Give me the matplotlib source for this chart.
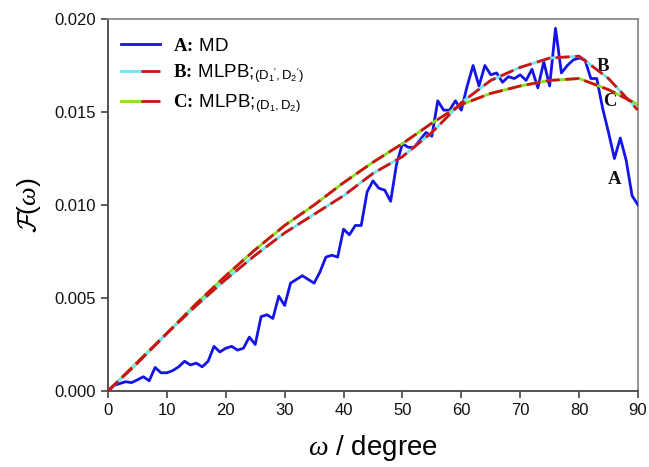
import matplotlib
matplotlib.use("Agg")
import matplotlib.pyplot as plt
from matplotlib.legend_handler import HandlerTuple
from matplotlib.lines import Line2D

plt.rcParams["font.family"] = ["Liberation Sans", "DejaVu Sans"]
plt.rcParams["mathtext.fontset"] = "custom"
plt.rcParams["mathtext.rm"] = "Liberation Sans"
plt.rcParams["mathtext.sf"] = "Liberation Sans"
plt.rcParams["mathtext.it"] = "Liberation Serif:italic"
plt.rcParams["mathtext.bf"] = "Liberation Serif:bold"
plt.rcParams["mathtext.cal"] = "cmsy10"

# A: MD (1-degree sampling)
omega_md = list(range(0, 91))
f_md = [
    0.0000, 0.0003, 0.0004, 0.0005, 0.00045, 0.0006, 0.00077, 0.00055, 0.00127, 0.00098,
    0.00098, 0.0011, 0.0013, 0.0016, 0.0014, 0.0015, 0.0013, 0.0016, 0.0024, 0.0021,
    0.0023, 0.0024, 0.0022, 0.0023, 0.0029, 0.0025, 0.0040, 0.0041, 0.0039, 0.0051,
    0.0046, 0.0058, 0.0060, 0.0062, 0.0060, 0.0058, 0.0064, 0.0072, 0.0073, 0.0072,
    0.0087, 0.0084, 0.0089, 0.0089, 0.0107, 0.0113, 0.0109, 0.0108, 0.0102, 0.0122,
    0.0133, 0.0131, 0.0131, 0.0135, 0.0139, 0.0137, 0.0156, 0.0151, 0.0151, 0.0156,
    0.0151, 0.0164, 0.0175, 0.0164, 0.0175, 0.0170, 0.0171, 0.0166, 0.0169, 0.0168,
    0.0170, 0.0167, 0.0173, 0.0163, 0.0177, 0.0164, 0.0195, 0.0171, 0.0175, 0.0178,
    0.0179, 0.0178, 0.0168, 0.0168, 0.0152, 0.0139, 0.0125, 0.0136, 0.0124, 0.0105,
    0.0100,
]

# B and C: MLPB curves (5-degree sampling)
omega_mlpb = list(range(0, 91, 5))
f_b = [0.0, 0.0015, 0.0031, 0.0046, 0.0060, 0.0073, 0.0085, 0.0095, 0.0105, 0.0117,
       0.0126, 0.0139, 0.0155, 0.0167, 0.0174, 0.0179, 0.0180, 0.0168, 0.0151]
f_c = [0.0, 0.00155, 0.0031, 0.0047, 0.0062, 0.0076, 0.0089, 0.0100, 0.0112, 0.0123,
       0.0133, 0.0144, 0.0154, 0.0160, 0.0164, 0.0167, 0.0168, 0.0162, 0.0154]

x_ticks = [0, 10, 20, 30, 40, 50, 60, 70, 80, 90]
y_ticks = [0.000, 0.005, 0.010, 0.015, 0.020]

BLUE = "#1414e6"
RED = "#cc1414"
CYAN = "#70e8f0"
GREEN = "#86e01e"
LW = 2.0
DASH = (5, 2)
LEG_DASH = (7.2, 2.9)

fig = plt.figure(figsize=(6.49, 4.67), dpi=100)
ax = fig.add_axes([0.1664, 0.1627, 0.8166, 0.7966])

ax.plot(omega_md, f_md, color=BLUE, lw=LW, solid_joinstyle="round", zorder=3)

ax.plot(omega_mlpb, f_c, color=GREEN, lw=LW, zorder=4)
ax.plot(omega_mlpb, f_c, color=RED, lw=LW, dashes=DASH, zorder=5)
ax.plot(omega_mlpb, f_b, color=CYAN, lw=LW, zorder=4)
ax.plot(omega_mlpb, f_b, color=RED, lw=LW, dashes=DASH, zorder=5)

ax.set_xlim(0, 90)
ax.set_ylim(0, 0.020)
ax.set_xticks(x_ticks)
ax.set_yticks(y_ticks)
ax.set_yticklabels([f"{v:.3f}" for v in y_ticks])
ax.tick_params(axis="both", direction="out", length=5, width=1.2, labelsize=12,
               color="#444444", labelcolor="#111111", top=False, right=False)

for side in ("left", "bottom"):
    ax.spines[side].set_color("#444444")
    ax.spines[side].set_linewidth(1.3)
for side in ("top", "right"):
    ax.spines[side].set_color("#8a8a8a")
    ax.spines[side].set_linewidth(1.3)

ax.set_xlabel(r"$\omega$ / degree", fontsize=20, labelpad=11)
ax.set_ylabel(r"$\mathcal{F}(\omega)$", fontsize=19, labelpad=8)

# curve tags
tag_style = dict(fontsize=13.5, fontweight="bold", family="Liberation Serif", color="#111111")
ax.text(84.1, 0.01745, "B", ha="center", va="center", **tag_style)
ax.text(85.3, 0.01555, "C", ha="center", va="center", **tag_style)
ax.text(86.1, 0.01135, "A", ha="center", va="center", **tag_style)

# legend proxies: coloured underlay with red dashes on top
h_a = Line2D([], [], color=BLUE, lw=LW)
h_b = (Line2D([], [], color=CYAN, lw=LW),
       Line2D([], [], color=RED, lw=LW, dashes=LEG_DASH))
h_c = (Line2D([], [], color=GREEN, lw=LW),
       Line2D([], [], color=RED, lw=LW, dashes=LEG_DASH))

labels = [
    r"$\mathbf{A}\!\mathbf{:}\!$ MD",
    r"$\mathbf{B}\!\mathbf{:}\!$ MLPB;$_{(\mathrm{D}_1\mathrm{'},\mathrm{D}_2\mathrm{'})}$",
    r"$\mathbf{C}\!\mathbf{:}\!$ MLPB;$_{(\mathrm{D}_1,\mathrm{D}_2)}$",
]
leg = ax.legend(
    [h_a, h_b, h_c], labels,
    handler_map={tuple: HandlerTuple(ndivide=None, pad=0)},
    loc="upper left", bbox_to_anchor=(0.0, 0.985), frameon=False,
    fontsize=13.5, handlelength=2.1, handletextpad=0.65, labelspacing=0.38,
    borderaxespad=0.3,
)

fig.savefig("out.png", dpi=100)
